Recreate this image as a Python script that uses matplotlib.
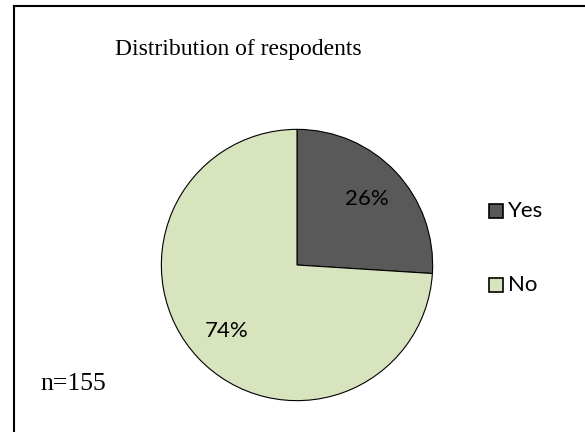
import matplotlib
matplotlib.use('Agg')
import matplotlib.pyplot as plt
from matplotlib.lines import Line2D

# data
labels = ['Yes', 'No']
values = [26, 74]
colors = ['#595959', '#D7E4BD']
title = 'Distribution of respodents'
n_text = 'n=155'

W, H = 585, 432
fig = plt.figure(figsize=(W / 100, H / 100), dpi=100)

# frame (left and top edges visible)
fig.add_artist(Line2D([14 / W, 14 / W], [0, 1 - 6 / H], color='black', lw=1.5, transform=fig.transFigure))
fig.add_artist(Line2D([14 / W, 1], [1 - 6 / H, 1 - 6 / H], color='black', lw=1.5, transform=fig.transFigure))

sans = ['Lato', 'DejaVu Sans']

cx, cy, r = 297, 265, 137
ax = fig.add_axes([(cx - r) / W, (H - cy - r) / H, 2 * r / W, 2 * r / H])
wedges, texts, autotexts = ax.pie(values, colors=colors, startangle=90, counterclock=False,
                                  autopct='%1.0f%%', pctdistance=0.71,
                                  wedgeprops=dict(edgecolor='black', linewidth=0.8),
                                  textprops=dict(fontsize=16, family=sans, color='black'))
ax.set_xlim(-1.01, 1.01)
ax.set_ylim(-1.01, 1.01)
ax.set_aspect('equal')
ax.axis('off')

fig.text(115 / W, 1 - 50 / H, title, family='Liberation Serif', fontsize=17, va='center', ha='left')
fig.text(40 / W, 1 - 384 / H, n_text, family='Liberation Serif', fontsize=18.5, va='center', ha='left')

# legend entries, placed by hand like the original
ys = [211, 285]
for lab, col, y in zip(labels, colors, ys):
    fig.add_artist(plt.Rectangle((489 / W, 1 - (y + 7) / H), 14 / W, 14 / H, facecolor=col,
                                 edgecolor='black', lw=1.2, transform=fig.transFigure))
    fig.text(508 / W, 1 - y / H, lab, family=sans, fontsize=16, va='center', ha='left')

fig.savefig('out.png', dpi=100)
